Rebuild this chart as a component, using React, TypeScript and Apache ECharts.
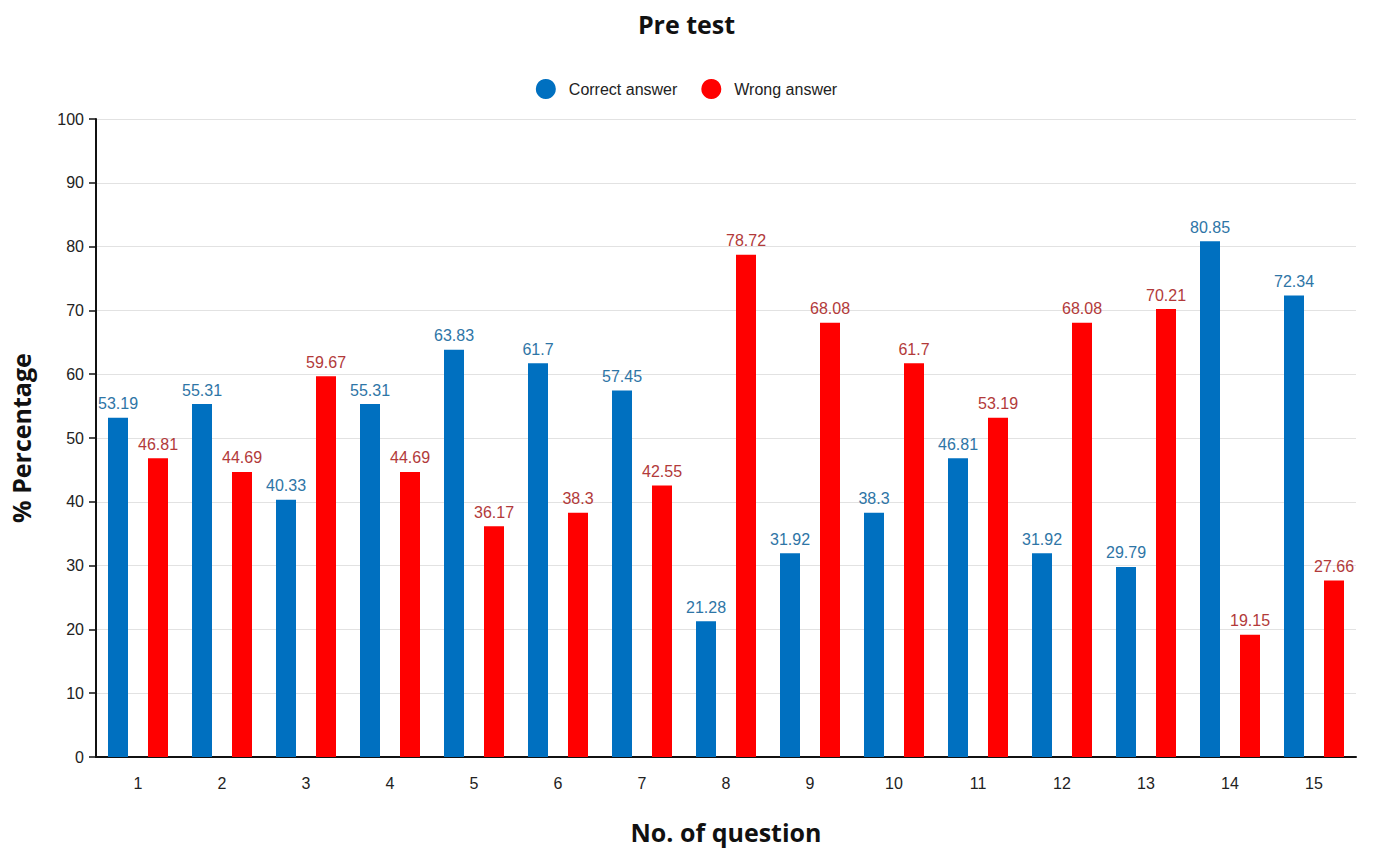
import React, { useEffect, useRef } from "react";
import * as echarts from "echarts";

const categories = ["1","2","3","4","5","6","7","8","9","10","11","12","13","14","15"];
const correct = [53.19,55.31,40.33,55.31,63.83,61.7,57.45,21.28,31.92,38.3,46.81,31.92,29.79,80.85,72.34];
const wrong = [46.81,44.69,59.67,44.69,36.17,38.3,42.55,78.72,68.08,61.7,53.19,68.08,70.21,19.15,27.66];

export default function App() {
  const ref = useRef<HTMLDivElement>(null);
  useEffect(() => {
    document.body.style.margin = "0";
    const chart = echarts.init(ref.current!, null, { renderer: "svg" });
    const font = "Arial, 'Liberation Sans', sans-serif";
    chart.setOption({
      animation: false,
      backgroundColor: "#ffffff",
      title: {
        text: "Pre test",
        left: "center",
        top: 6,
        textStyle: { fontSize: 25, fontWeight: "bold", color: "#111", fontFamily: "'Open Sans', sans-serif" },
      },
      legend: {
        top: 74,
        left: "center",
        icon: "circle",
        itemWidth: 20,
        itemHeight: 20,
        itemGap: 24,
        textStyle: { fontSize: 16, color: "#222", fontFamily: font, padding: [0, 0, 0, 8] },
        data: ["Correct answer", "Wrong answer"],
      },
      grid: { left: 96, right: 17, top: 119, bottom: 95, containLabel: false },
      xAxis: {
        type: "category",
        data: categories,
        name: "No. of question",
        nameLocation: "middle",
        nameGap: 62,
        nameTextStyle: { fontSize: 25, fontWeight: "bold", color: "#111", fontFamily: "'Open Sans', sans-serif" },
        axisLine: { lineStyle: { color: "#111", width: 2 } },
        axisTick: { show: false },
        axisLabel: { fontSize: 16, color: "#222", margin: 18, fontFamily: font },
      },
      yAxis: {
        type: "value",
        min: 0,
        max: 100,
        interval: 10,
        name: "% Percentage",
        nameLocation: "middle",
        nameGap: 63,
        nameTextStyle: { fontSize: 25, fontWeight: "bold", color: "#111", fontFamily: "'Open Sans', sans-serif" },
        axisLine: { show: true, lineStyle: { color: "#111", width: 2 } },
        axisTick: { show: true, length: 7, lineStyle: { color: "#111", width: 1.5 } },
        axisLabel: { fontSize: 16, color: "#222", margin: 12, fontFamily: font },
        splitLine: { lineStyle: { color: "#e2e2e2", width: 1 } },
      },
      series: [
        {
          name: "Correct answer",
          type: "bar",
          data: correct,
          barWidth: 20,
          barGap: "100%",
          itemStyle: { color: "#0070C0" },
          label: { show: true, position: "top", distance: 6, fontSize: 16, color: "#2E75A6", fontFamily: font },
        },
        {
          name: "Wrong answer",
          type: "bar",
          data: wrong,
          barWidth: 20,
          itemStyle: { color: "#FF0000" },
          label: { show: true, position: "top", distance: 6, fontSize: 16, color: "#B23A3A", fontFamily: font },
        },
      ],
    });
    return () => chart.dispose();
  }, []);
  return <div ref={ref} style={{ width: 1373, height: 852 }} />;
}
